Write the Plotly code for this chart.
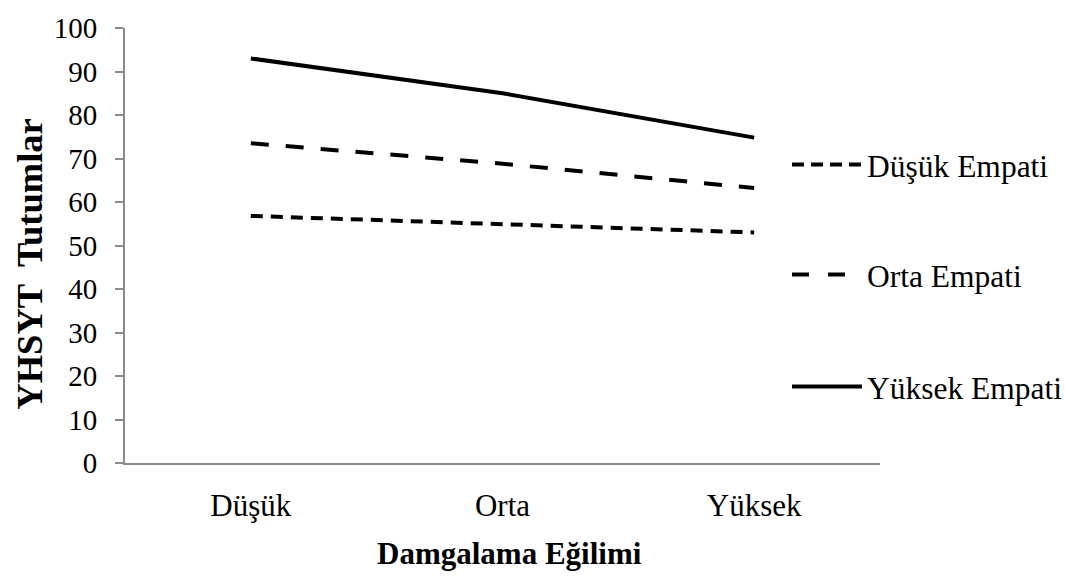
import plotly.graph_objects as go

# ---- data ----
categories = ["Düşük", "Orta", "Yüksek"]
dusuk_empati = [56.8, 54.9, 53.0]
orta_empati = [73.5, 68.8, 63.2]
yuksek_empati = [93.0, 85.0, 74.8]
series_names = ["Düşük Empati", "Orta Empati", "Yüksek Empati"]
y_ticks = [0, 10, 20, 30, 40, 50, 60, 70, 80, 90, 100]

FONT = "Liberation Serif"
dash_styles = ["12px,8px", "18px,17px", "solid"]
series_values = [dusuk_empati, orta_empati, yuksek_empati]

fig = go.Figure()
for name, vals, dash in zip(series_names, series_values, dash_styles):
    fig.add_trace(go.Scatter(
        x=categories, y=vals, mode="lines", name=name,
        line=dict(color="black", width=4, dash=dash),
        showlegend=False,
    ))

W, H = 1065, 578
L, R, T, B = 125, 185, 20, 115
pw, ph = W - L - R, H - T - B

def px2paper_x(px):
    return (px - L) / pw

def px2paper_y(py):
    return (H - B - py) / ph

# custom legend (long sample lines like the original)
legend_rows = [159, 271, 385]
legend_ends = [862, 845, 862]
legend_dash = ["12px,7px", "17px,19px", "solid"]
shapes = []
annotations = []
for name, ry, xe, dsh in zip(series_names, legend_rows, legend_ends, legend_dash):
    shapes.append(dict(type="line", xref="paper", yref="paper",
                       x0=px2paper_x(792), x1=px2paper_x(xe),
                       y0=px2paper_y(ry), y1=px2paper_y(ry),
                       line=dict(color="black", width=4, dash=dsh)))
    annotations.append(dict(xref="paper", yref="paper",
                            x=px2paper_x(865), y=px2paper_y(ry + 2),
                            xanchor="left", yanchor="middle", showarrow=False,
                            text=name, font=dict(family=FONT, size=31.5, color="black")))

annotations.append(dict(xref="paper", yref="paper",
                        x=px2paper_x(509), y=px2paper_y(555),
                        xanchor="center", yanchor="middle", showarrow=False,
                        text="<b>Damgalama Eğilimi</b>",
                        font=dict(family=FONT, size=31, color="black")))
annotations.append(dict(xref="paper", yref="paper",
                        x=px2paper_x(30), y=px2paper_y(261),
                        xanchor="center", yanchor="middle", showarrow=False,
                        textangle=-90,
                        text="<b>YHSYT  Tutumlar</b>",
                        font=dict(family=FONT, size=36.5, color="black")))

fig.update_layout(
    width=W, height=H,
    margin=dict(l=L, r=R, t=T, b=B),
    paper_bgcolor="white", plot_bgcolor="white",
    font=dict(family=FONT, color="black"),
    shapes=shapes, annotations=annotations,
    xaxis=dict(
        type="category", range=[-0.5, 2.5],
        showline=True, linecolor="#8a8a8a", linewidth=2,
        showgrid=False, zeroline=False, ticks="",
        tickfont=dict(family=FONT, size=31, color="black"),
        ticklabelstandoff=14,
    ),
    yaxis=dict(
        range=[0, 100], tickvals=y_ticks,
        showline=True, linecolor="#8a8a8a", linewidth=2,
        showgrid=False, zeroline=False,
        ticks="outside", ticklen=8, tickwidth=2, tickcolor="#8a8a8a",
        tickfont=dict(family=FONT, size=29, color="black"),
        ticklabelstandoff=12,
    ),
)

fig.write_html(
    "out.html",
    config={"displayModeBar": False},
    post_script="document.body.style.margin='0';document.body.style.padding='0';document.body.style.overflow='hidden';",
)
